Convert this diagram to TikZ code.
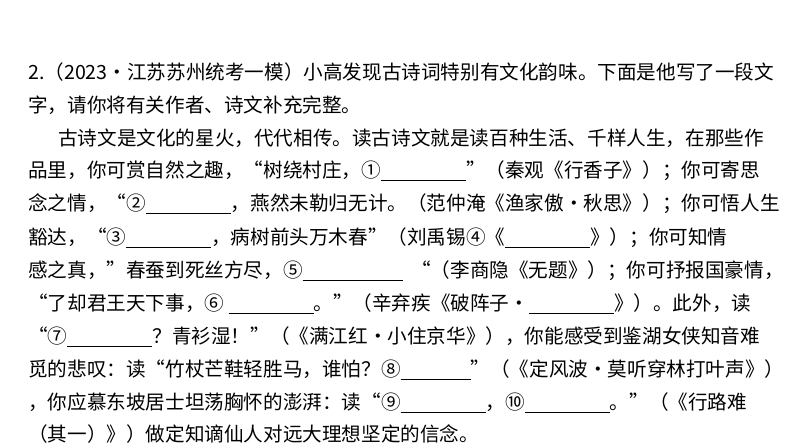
\documentclass[tikz,border=0pt]{standalone}
\usepackage{fontspec}
\newfontfamily\cjk{Noto Sans CJK SC}
\newcommand\bl[1]{\rule[-3pt]{#1pt}{0.9pt}}
\begin{document}
\begin{tikzpicture}[x=1pt,y=1pt,
  ln/.style={anchor=west,inner sep=0pt,font=\cjk\fontsize{19.6}{22}\selectfont,text=black}]
\useasboundingbox[fill=white] (0,0) rectangle (794,-447);
\node[ln] (l1) at (28,-72) {2.（2023·江苏苏州统考一模）小高发现古诗词特别有文化韵味。下面是他写了一段文};
\node[ln] (l2) at (28,-105) {字，请你将有关作者、诗文补充完整。};
\node[ln] (l3) at (58,-138) {古诗文是文化的星火，代代相传。读古诗文就是读百种生活、千样人生，在那些作};
\node[ln] (l4) at (28,-171) {品里，你可赏自然之趣，“树绕村庄，①\bl{85}”（秦观《行香子》）；你可寄思};
\node[ln] (l5) at (28,-204) {念之情，“②\bl{85}，燕然未勒归无计。（范仲淹《渔家傲·秋思》）；你可悟人生};
\node[ln] (l6) at (28,-238) {豁达，“③\bl{85}，病树前头万木春”（刘禹锡④《\bl{85}》）；你可知情};
\node[ln] (l7) at (28,-271) {感之真，”春蚕到死丝方尽，⑤\bl{100}\ \ “（李商隐《无题》）；你可抒报国豪情，};
\node[ln] (l8) at (28,-304) {“了却君王天下事，⑥ \bl{85}。”（辛弃疾《破阵子·\bl{85}》）。此外，读};
\node[ln] (l9) at (28,-337) {“⑦\bl{85}？青衫湿！”（《满江红·小住京华》），你能感受到鉴湖女侠知音难};
\node[ln] (l10) at (28,-370) {觅的悲叹：读“竹杖芒鞋轻胜马，谁怕？⑧\bl{70}”（《定风波·莫听穿林打叶声》）};
\node[ln] (l11) at (28,-403) {，你应慕东坡居士坦荡胸怀的澎湃：读“⑨\bl{85}，⑩\bl{85}。”（《行路难};
\node[ln] (l12) at (28,-434) {（其一）》）做定知谪仙人对远大理想坚定的信念。};
\end{tikzpicture}
\end{document}
